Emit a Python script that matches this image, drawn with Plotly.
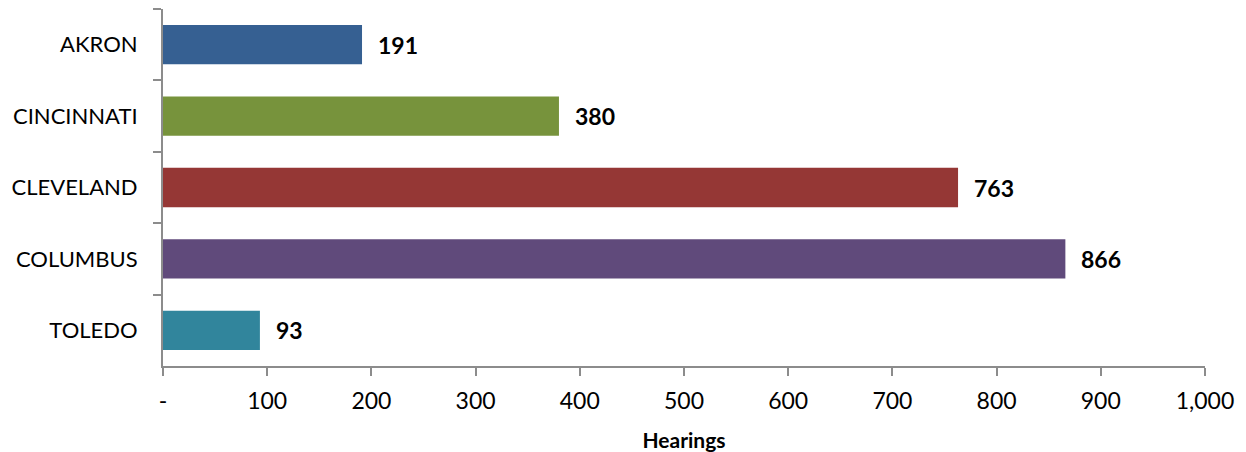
import plotly.graph_objects as go

cities = ["AKRON", "CINCINNATI", "CLEVELAND", "COLUMBUS", "TOLEDO"]
hearings = [191, 380, 763, 866, 93]
bar_colors = ["#366092", "#77933C", "#953735", "#604A7B", "#31859C"]
x_tick_vals = [0, 100, 200, 300, 400, 500, 600, 700, 800, 900, 1000]
x_tick_text = ["-", "100", "200", "300", "400", "500", "600", "700", "800", "900", "1,000"]

FONT = "Lato"

fig = go.Figure()
fig.add_trace(go.Bar(
    x=hearings,
    y=cities,
    orientation="h",
    marker=dict(color=bar_colors, line=dict(width=0)),
    hoverinfo="x+y",
))

for c, v in zip(cities, hearings):
    fig.add_annotation(
        x=v, y=c, text="<b>%d</b>" % v, showarrow=False,
        xanchor="left", yanchor="middle", xshift=14,
        font=dict(family=FONT, size=23, color="#000000"),
    )

# page body adds an 8px offset, so the figure is sized to fill the rest of the window
fig.update_layout(
    width=1238, height=444,
    margin=dict(l=155, r=41, t=1, b=86, pad=0),
    paper_bgcolor="white", plot_bgcolor="white",
    bargap=0.45,
    showlegend=False,
    font=dict(family=FONT, size=22, color="#000000"),
    xaxis=dict(
        range=[0, 1000],
        tickmode="array", tickvals=x_tick_vals, ticktext=x_tick_text,
        showgrid=False, zeroline=False,
        showline=True, linecolor="#8c8c8c", linewidth=2,
        ticks="outside", ticklen=8, tickwidth=1.5, tickcolor="#8c8c8c",
        tickfont=dict(family=FONT, size=23, color="#000000"),
        ticklabelstandoff=5,
        automargin=False,
        title=dict(text="<b>Hearings</b>", font=dict(family=FONT, size=21, color="#000000"), standoff=27),
    ),
    yaxis=dict(
        autorange="reversed",
        showgrid=False, zeroline=False,
        showline=True, linecolor="#8c8c8c", linewidth=2,
        ticks="outside", tickson="boundaries", ticklen=8, tickwidth=1.5, tickcolor="#8c8c8c",
        tickfont=dict(family=FONT, size=22, color="#000000"),
        ticklabelstandoff=19,
        automargin=False,
    ),
)

fig.write_html("out.html")
